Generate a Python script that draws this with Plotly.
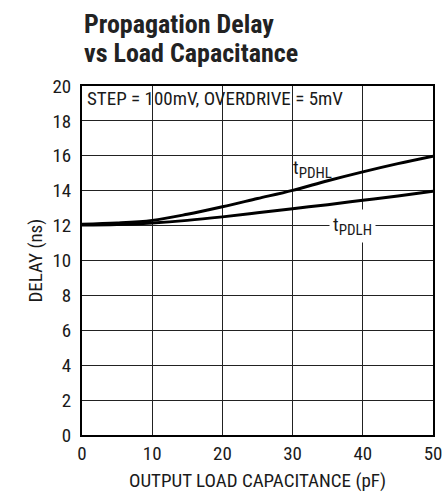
import plotly.graph_objects as go

cap_pf = [0, 5, 10, 15, 20, 25, 30, 35, 40, 45, 50]
tpdhl_ns = [12.08, 12.15, 12.3, 12.65, 13.08, 13.55, 14.02, 14.57, 15.08, 15.55, 15.98]
tpdlh_ns = [12.03, 12.06, 12.15, 12.3, 12.5, 12.73, 12.97, 13.2, 13.45, 13.7, 13.97]

x_ticks = [0, 10, 20, 30, 40, 50]
y_ticks = [0, 2, 4, 6, 8, 10, 12, 14, 16, 18, 20]

FONT = "Liberation Sans Narrow, Roboto Condensed, Arial Narrow, Roboto, Liberation Sans, sans-serif"
INK = "#1a1a1a"

fig = go.Figure()
fig.add_trace(go.Scatter(x=cap_pf, y=tpdhl_ns, mode="lines",
                         line=dict(color="black", width=3, shape="spline"),
                         showlegend=False, hoverinfo="skip"))
fig.add_trace(go.Scatter(x=cap_pf, y=tpdlh_ns, mode="lines",
                         line=dict(color="black", width=3, shape="spline"),
                         showlegend=False, hoverinfo="skip"))

SUB = "t<sub><span style='font-size:15px'>{}</span></sub>"
fig.add_annotation(x=32.8, y=15.25, text=SUB.format("PDHL"), showarrow=False,
                   font=dict(family=FONT, size=19, color=INK))
fig.add_annotation(x=38.5, y=11.95, text=SUB.format("PDLH"), showarrow=False,
                   bgcolor="white", borderpad=3,
                   font=dict(family=FONT, size=19, color=INK))
fig.add_annotation(x=0.45, y=19.3, xanchor="left", yanchor="middle",
                   text="STEP = 100mV, OVERDRIVE = 5mV", showarrow=False,
                   font=dict(family=FONT, size=19, color=INK))

fig.add_annotation(xref="paper", yref="paper", x=0, y=1, yshift=62,
                   xanchor="left", yanchor="middle", align="left",
                   text="<b>Propagation Delay</b>", showarrow=False,
                   font=dict(family=FONT, size=26, color="#222"))
fig.add_annotation(xref="paper", yref="paper", x=0, y=1, yshift=33,
                   xanchor="left", yanchor="middle", align="left",
                   text="<b>vs Load Capacitance</b>", showarrow=False,
                   font=dict(family=FONT, size=26, color="#222"))

# axis titles
fig.add_annotation(xref="paper", yref="paper", x=0.5, y=0, yshift=-45,
                   xanchor="center", yanchor="middle",
                   text="OUTPUT LOAD CAPACITANCE (pF)", showarrow=False,
                   font=dict(family=FONT, size=19, color=INK))
fig.add_annotation(xref="paper", yref="paper", x=0, y=0.5, xshift=-47,
                   xanchor="center", yanchor="middle", textangle=-90,
                   text="DELAY (ns)", showarrow=False,
                   font=dict(family=FONT, size=19, color=INK))

fig.update_xaxes(range=[0, 50], tickvals=x_ticks, showgrid=True, automargin=False,
                 gridcolor="#222", gridwidth=1, zeroline=False,
                 showline=True, linecolor="black", linewidth=2, mirror=True,
                 ticks="", ticklabelstandoff=0,
                 tickfont=dict(family=FONT, size=19, color=INK))
fig.update_yaxes(range=[0, 20], tickvals=y_ticks, showgrid=True, automargin=False,
                 gridcolor="#222", gridwidth=1, zeroline=False,
                 showline=True, linecolor="black", linewidth=2, mirror=True,
                 ticks="", ticklabelstandoff=5,
                 tickfont=dict(family=FONT, size=19, color=INK))

fig.update_layout(width=446, height=492, plot_bgcolor="white", paper_bgcolor="white",
                  margin=dict(l=82, r=13, t=86, b=57), showlegend=False)

fig.write_html("out.html", config={"displayModeBar": False, "staticPlot": True},
               post_script="document.body.style.margin='0px';document.body.style.padding='0px';")
